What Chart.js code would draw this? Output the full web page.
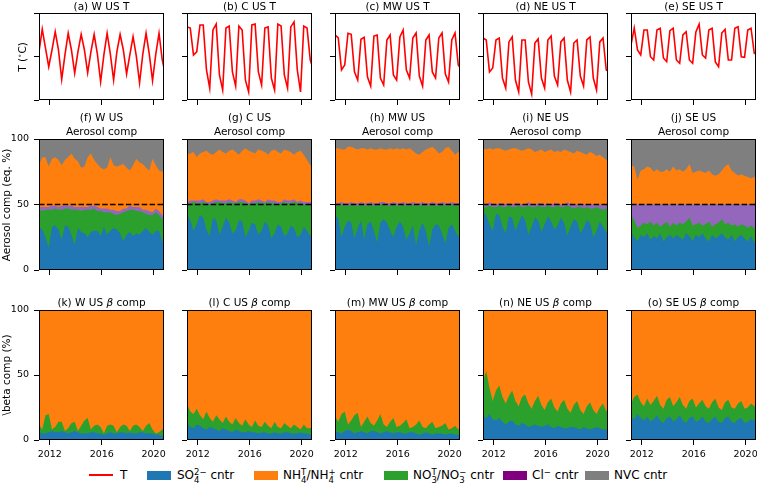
<!DOCTYPE html>
<html>
<head>
<meta charset="utf-8">
<script src="https://cdn.jsdelivr.net/npm/chart.js@4.4.1/dist/chart.umd.min.js"></script>
<style>
  body { margin: 0; background: #fff; font-family: "DejaVu Sans", sans-serif; color: #000; }
  #fig { position: relative; width: 757px; height: 483px; overflow: hidden; background: #fff; }
  #fig canvas { position: absolute; }
  .ttl { position: absolute; width: 160px; margin-left: -80px; text-align: center; font-size: 10.5px; line-height: 14px; white-space: nowrap; }
  .ylab { position: absolute; font-size: 10.5px; white-space: nowrap; transform: translate(-50%, -50%) rotate(-90deg); }
  .ylab sup { font-size: 7px; }
  .lg-patch { position: absolute; top: 471px; width: 24px; height: 9px; }
  .lg-line { position: absolute; top: 474px; width: 24px; height: 2px; background: #ff0000; }
  .lg-text { position: absolute; top: 467px; font-size: 12px; line-height: 17px; white-space: nowrap; }
  .ss { display: inline-block; vertical-align: -4px; font-size: 8.5px; line-height: 8px; text-align: left; }
  .ss span { display: block; }
</style>
</head>
<body>
<div id="fig"></div>
<script>
// === DATA: seasonal means, MAM 2011 ... DJF 2020 ===
const SEASON_START = [
  '2011-03','2011-06','2011-09','2011-12','2012-03','2012-06','2012-09','2012-12',
  '2013-03','2013-06','2013-09','2013-12','2014-03','2014-06','2014-09','2014-12',
  '2015-03','2015-06','2015-09','2015-12','2016-03','2016-06','2016-09','2016-12',
  '2017-03','2017-06','2017-09','2017-12','2018-03','2018-06','2018-09','2018-12',
  '2019-03','2019-06','2019-09','2019-12','2020-03','2020-06','2020-09','2020-12'
];
const X_TICKS = [2012, 2016, 2020];
const T_TICKS = [-5, 15, 35];
const PCT_TICKS = [0, 50, 100];
const REF_LEVEL = 50;

// temperature (deg C)
const T_W  = [17.2,27.6,18.9,10.3, 18.0,26.4,18.0,4.5, 15.7,25.7,18.0,7.3, 17.1,25.2,18.0,7.5, 17.1,25.2,16.1,3.4, 15.7,25.7,16.1,4.2, 17.1,25.2,18.0,7.0, 15.7,24.1,15.2,2.9, 16.1,25.7,16.1,3.9, 16.1,25.7,13.4,6.5];
const T_C  = [28.6,28.1,15.7,17.1, 29.5,29.5,8.8,0.5, 27.2,29.9,6.5,-0.4, 28.1,29.0,7.9,1.4, 29.0,27.2,4.2,-1.3, 29.5,29.9,7.9,1.9, 28.1,28.6,5.1,-0.4, 29.9,29.0,6.5,0.5, 28.6,30.9,8.8,-1.3, 29.0,28.1,13.4,8.8];
const T_MW = [24.9,23.6,8.8,11.1, 25.7,25.2,8.0,4.2, 22.9,23.8,5.7,1.4, 24.4,24.9,5.1,1.9, 22.6,24.9,6.5,4.2, 24.0,27.2,8.8,5.1, 23.5,25.8,6.0,1.4, 22.6,24.9,7.9,5.1, 23.5,25.8,7.0,3.3, 22.6,25.8,11.1,8.8];
const T_NE = [23.5,22.6,7.9,9.7, 22.6,23.5,5.1,0.5, 21.7,24.0,4.2,-1.3, 22.6,22.6,3.3,-2.3, 21.2,23.1,5.1,0.5, 22.6,24.4,6.0,1.9, 21.7,23.5,4.2,-1.3, 21.2,22.6,6.0,1.4, 22.6,24.0,5.1,-0.4, 21.7,23.5,8.8,7.9];
const T_SE = [20.3,28.1,18.0,15.7, 27.2,27.2,14.9,13.4, 27.2,28.0,14.3,12.6, 26.9,28.0,13.4,11.9, 24.9,26.4,13.4,11.9, 26.3,29.9,15.7,14.3, 27.2,28.0,12.5,10.3, 25.8,27.5,13.4,13.4, 28.0,28.7,14.9,14.6, 27.2,28.0,16.5,15.7];

// aerosol composition (eq. %), stacked SO4 / NO3 / Cl / NH4 / NVC
const AER_W_SO4 = [33,31,25,17,33,34,31,23,34,33,27,19,32,29,28,25,29,30,30,26,33,27,30,32,31,28,22,27,29,26,28,27,30,32,29,27,30,30,22,19];
const AER_W_NO3 = [13,14,21,29,13,13,15,23,13,14,19,27,14,16,18,21,17,17,15,19,11,17,14,11,11,15,22,18,17,20,17,18,14,11,13,15,14,12,17,18];
const AER_W_CL  = [2,3,2,2,3,2,2,3,2,2,3,2,2,3,2,2,3,2,3,2,3,3,2,3,3,2,3,2,3,2,3,3,2,3,3,2,3,3,3,3];
const AER_W_NH4 = [32,38,38,31,36,37,36,31,35,37,40,37,35,30,31,38,40,35,33,31,30,31,40,34,34,35,34,31,27,32,37,34,35,32,31,41,33,31,33,39];
const AER_W_NVC = [20,14,14,21,15,14,16,20,16,14,11,15,17,22,21,14,11,16,19,22,23,22,14,20,21,20,19,22,24,20,15,18,19,22,24,15,20,24,25,21];

const AER_C_SO4 = [43,38,30,35,42,40,31,26,40,38,27,33,40,36,28,30,38,37,25,30,36,35,27,30,37,34,24,28,35,33,26,28,34,32,25,27,33,30,26,24];
const AER_C_NO3 = [7,13,22,16,9,12,20,24,11,14,25,18,11,16,23,21,14,15,26,20,15,16,25,21,14,18,27,23,15,18,26,23,17,20,26,24,17,20,23,24];
const AER_C_CL  = [2,2,1,2,2,2,1,2,2,2,1,2,2,2,2,1,2,2,2,1,2,2,2,2,1,2,2,2,2,1,2,2,2,2,1,2,2,2,3,3];
const AER_C_NH4 = [36,36,37,33,36,36,39,37,35,36,39,37,36,37,39,38,34,37,40,40,37,36,38,38,38,34,38,39,38,37,38,38,37,34,38,38,36,32,28,28];
const AER_C_NVC = [12,11,10,14,11,10,9,11,12,10,8,10,11,9,8,10,12,9,7,9,10,11,8,9,10,12,9,8,10,11,8,9,10,12,10,9,12,16,20,21];

const AER_MW_SO4 = [41,40,25,33,38,36,24,32,38,23,35,37,30,21,36,39,36,30,25,33,37,33,23,28,34,19,30,36,30,18,31,35,34,28,20,32,35,30,25,31];
const AER_MW_NO3 = [8,9,25,16,11,14,25,17,12,26,14,13,19,28,14,11,13,19,25,16,12,17,26,21,16,30,19,14,19,31,19,14,15,22,29,17,15,19,24,19];
const AER_MW_CL  = [2,2,2,2,2,2,2,2,2,2,2,2,2,2,2,2,2,2,2,2,2,2,2,2,2,2,2,2,2,2,2,2,2,2,2,2,2,2,2,2];
const AER_MW_NH4 = [42,42,40,41,43,42,42,41,41,42,41,41,41,41,41,40,41,42,40,42,41,41,41,42,39,38,37,38,41,42,42,41,38,38,42,43,39,37,39,40];
const AER_MW_NVC = [7,7,8,8,6,6,7,8,7,7,8,7,8,8,7,8,8,7,8,7,8,7,8,7,9,11,12,10,8,7,6,8,11,10,7,6,9,12,10,8];

const AER_NE_SO4 = [44,42,35,30,43,42,33,28,41,40,30,36,42,38,27,33,40,38,29,35,41,37,31,34,40,36,26,33,39,37,28,32,38,36,25,30,37,33,29,27];
const AER_NE_NO3 = [4,6,14,18,5,7,15,20,8,8,18,13,6,10,22,15,8,11,19,13,8,11,17,15,8,12,23,15,8,11,20,15,10,11,22,18,10,13,18,19];
const AER_NE_CL  = [2,2,3,2,2,2,3,2,2,2,3,2,2,2,3,2,2,2,3,2,2,2,3,2,2,2,3,2,3,2,3,3,2,3,3,2,3,3,3,3];
const AER_NE_NH4 = [43,42,41,42,43,42,41,41,41,43,42,41,41,42,41,42,40,40,41,40,40,42,39,40,40,42,39,40,39,41,39,39,38,40,39,37,38,37,34,35];
const AER_NE_NVC = [7,8,7,8,7,7,8,9,8,7,7,8,9,8,7,8,10,9,8,10,9,8,10,9,10,8,9,10,11,9,10,11,12,10,11,13,12,14,16,16];

const AER_SE_SO4 = [29,25,22,27,25,28,23,26,24,28,22,25,27,24,27,25,23,28,26,22,27,25,28,24,22,27,24,26,28,25,23,27,22,25,27,24,22,26,21,22];
const AER_SE_NO3 = [13,13,10,7,11,7,14,8,12,5,13,12,6,12,7,11,12,9,14,12,8,11,6,11,15,6,11,10,11,10,13,7,13,8,8,10,10,8,11,6];
const AER_SE_CL  = [8,12,18,16,14,15,13,16,14,17,15,13,17,14,16,14,15,13,10,16,15,14,16,15,13,17,15,14,11,15,14,16,15,17,15,16,18,16,18,22];
const AER_SE_NH4 = [30,29,19,26,27,29,28,25,27,25,25,27,25,29,26,27,25,27,31,24,25,26,25,24,26,23,22,23,26,29,31,26,24,22,23,22,21,20,21,20];
const AER_SE_NVC = [20,21,31,24,23,21,22,25,23,25,25,23,25,21,24,23,25,23,19,26,25,24,25,26,24,27,28,27,24,21,19,24,26,28,27,28,29,30,29,30];

// beta composition (%), stacked SO4 / NO3 / NH4
const BETA_W_SO4 = [6,5,5,6,7,6,6,7,6,5,6,7,6,5,5,5,6,6,5,5,4,5,6,5,5,6,6,5,6,5,5,6,6,5,5,5,4,4,3,3];
const BETA_W_NO3 = [6,3,14,14,1,4,8,7,1,4,7,7,1,6,10,12,2,5,7,5,1,6,6,6,1,4,6,6,1,6,7,4,1,6,8,3,1,2,5,6];
const BETA_W_NH4 = [88,92,81,80,92,90,86,86,93,91,87,86,93,89,85,83,92,89,88,90,95,89,88,89,94,90,88,89,93,89,88,90,93,89,87,92,95,94,92,91];

const BETA_C_SO4 = [13,10,9,12,11,9,8,10,9,8,7,9,8,7,6,8,7,6,6,7,6,6,5,6,6,5,5,6,5,5,6,6,5,5,5,6,5,5,4,5];
const BETA_C_NO3 = [15,12,11,12,8,7,14,7,5,11,9,4,10,7,6,9,6,5,10,5,4,9,6,4,8,6,4,8,5,4,7,5,4,7,5,2,7,4,5,5];
const BETA_C_NH4 = [72,78,80,76,81,84,78,83,86,81,84,87,82,86,88,83,87,89,84,88,90,85,89,90,86,89,91,86,90,91,87,89,91,88,90,92,88,91,91,90];

const BETA_MW_SO4 = [7,6,5,7,8,7,5,6,7,6,5,7,7,6,5,6,7,6,5,6,6,5,5,6,6,5,4,5,6,5,4,5,5,5,4,5,5,4,4,4];
const BETA_MW_NO3 = [11,8,15,15,4,8,14,15,3,8,13,6,4,9,15,6,3,8,12,4,5,8,11,3,4,7,11,5,3,7,10,4,5,6,9,3,4,7,4,5];
const BETA_MW_NH4 = [82,86,80,78,88,85,81,79,90,86,82,87,89,85,80,88,90,86,83,90,89,87,84,91,90,88,85,90,91,88,86,91,90,89,87,92,91,89,92,91];

const BETA_NE_SO4 = [18,17,20,16,15,17,14,12,14,15,12,11,13,12,10,11,12,11,10,11,12,10,9,11,10,9,9,10,10,9,8,10,9,8,9,10,9,8,8,9];
const BETA_NE_NO3 = [27,36,20,14,23,25,19,16,20,23,18,15,20,23,18,13,18,23,17,12,17,22,16,11,18,22,15,11,17,21,15,10,17,21,14,10,16,20,14,15];
const BETA_NE_NH4 = [55,47,60,70,62,58,67,72,66,62,70,74,67,65,72,76,70,66,73,77,71,68,75,78,72,69,76,79,73,70,77,80,74,71,77,80,75,72,78,76];

const BETA_SE_SO4 = [18,16,20,17,15,18,14,16,19,15,13,17,18,14,16,19,15,13,17,18,14,15,18,14,13,16,18,14,13,17,18,14,13,16,17,13,14,16,15,14];
const BETA_SE_NO3 = [10,17,15,12,11,14,13,14,15,12,11,14,15,12,13,14,12,11,13,14,11,13,13,12,11,13,14,11,10,12,13,11,11,12,13,11,11,12,11,11];
const BETA_SE_NH4 = [72,67,65,71,74,68,73,70,66,73,76,69,67,74,71,67,73,76,70,68,75,72,69,74,76,71,68,75,77,71,69,75,76,72,70,76,75,72,74,75];

// === TITLES & COLOURS ===
const LETTERS = ['abcde', 'fghij', 'klmno'];
const REGION_NAMES = ['W US', 'C US', 'MW US', 'NE US', 'SE US'];
const COL_SO4 = '#1f77b4', COL_NH4 = '#ff7f0e', COL_NO3 = '#2ca02c', COL_CL = '#9467bd', COL_NVC = '#7f7f7f';

const T_SERIES = [T_W, T_C, T_MW, T_NE, T_SE];
const AER_SERIES = [
  [AER_W_SO4, AER_W_NO3, AER_W_CL, AER_W_NH4, AER_W_NVC],
  [AER_C_SO4, AER_C_NO3, AER_C_CL, AER_C_NH4, AER_C_NVC],
  [AER_MW_SO4, AER_MW_NO3, AER_MW_CL, AER_MW_NH4, AER_MW_NVC],
  [AER_NE_SO4, AER_NE_NO3, AER_NE_CL, AER_NE_NH4, AER_NE_NVC],
  [AER_SE_SO4, AER_SE_NO3, AER_SE_CL, AER_SE_NH4, AER_SE_NVC]
];
const BETA_SERIES = [
  [BETA_W_SO4, BETA_W_NO3, BETA_W_NH4],
  [BETA_C_SO4, BETA_C_NO3, BETA_C_NH4],
  [BETA_MW_SO4, BETA_MW_NO3, BETA_MW_NH4],
  [BETA_NE_SO4, BETA_NE_NO3, BETA_NE_NH4],
  [BETA_SE_SO4, BETA_SE_NO3, BETA_SE_NH4]
];

// decimal years from season start months
const X_VALUES = SEASON_START.map(s => { const p = s.split('-'); return +p[0] + (+p[1] - 1) / 12; });
const X_MIN = X_VALUES[0];
const X_MAX = 2020.8;

// === LAYOUT (pixels of the figure) ===
const COL_LEFT = [39, 187, 335, 483, 631];
const PLOT_W = 125;
const ROW_TOP = [13, 139, 310];
const ROW_H = [87, 131, 130];

const fig = document.getElementById('fig');

// black box round every panel, like matplotlib spines
const framePlugin = {
  id: 'frame',
  afterDatasetsDraw(chart) {
    const a = chart.chartArea, ctx = chart.ctx;
    ctx.save();
    ctx.strokeStyle = '#000';
    ctx.lineWidth = 1;
    ctx.strokeRect(Math.round(a.left) + 0.5, Math.round(a.top) + 0.5, Math.round(a.right - a.left) - 1, Math.round(a.bottom - a.top) - 1);
    ctx.restore();
  }
};

function toPoints(vals) {
  return vals.map((v, i) => ({ x: X_VALUES[i], y: v }));
}

function areaSets(series, colors) {
  // every layer filled down to 0, lower layers are painted over the upper ones
  return series.map((vals, k) => ({
    data: toPoints(vals),
    backgroundColor: colors[k],
    borderColor: 'rgba(0,0,0,0)',
    borderWidth: 0,
    pointRadius: 0,
    tension: 0,
    fill: 'origin',
    stack: 'comp'
  }));
}

function drawPanel(row, col, datasets, yTicks, stacked) {
  const padL = 36, padT = 16, padR = 16, padB = row === 2 ? 26 : 16;
  const cv = document.createElement('canvas');
  cv.width = padL + PLOT_W + padR;
  cv.height = padT + ROW_H[row] + padB;
  cv.style.left = (COL_LEFT[col] - padL) + 'px';
  cv.style.top = (ROW_TOP[row] - padT) + 'px';
  fig.appendChild(cv);

  const tickFont = { family: 'DejaVu Sans', size: 9.5 };
  new Chart(cv, {
    type: 'line',
    data: { datasets },
    options: {
      responsive: false,
      animation: false,
      events: [],
      layout: { padding: { left: 0, top: padT, right: padR, bottom: 0 } },
      plugins: { legend: { display: false }, tooltip: { enabled: false } },
      scales: {
        x: {
          type: 'linear', min: X_MIN, max: X_MAX,
          afterBuildTicks: s => { s.ticks = X_TICKS.map(v => ({ value: v })); },
          afterFit: s => { s.height = padB; },
          ticks: { display: row === 2, color: '#000', font: tickFont, padding: 4, maxRotation: 0, autoSkip: false, callback: v => String(v) },
          grid: { drawOnChartArea: false, drawTicks: true, tickLength: 5, color: '#000', lineWidth: 1 },
          border: { display: false }
        },
        y: {
          min: yTicks[0], max: yTicks[yTicks.length - 1], stacked,
          afterBuildTicks: s => { s.ticks = yTicks.map(v => ({ value: v })); },
          afterFit: s => { s.width = padL; },
          ticks: { display: row > 0 && col === 0, color: '#000', font: tickFont, padding: 5, callback: v => String(v) },
          grid: { drawOnChartArea: false, drawTicks: true, tickLength: 5, color: '#000', lineWidth: 1 },
          border: { display: false }
        }
      }
    },
    plugins: [framePlugin]
  });
}

function addTitle(row, col, html) {
  const d = document.createElement('div');
  d.className = 'ttl';
  d.style.left = (COL_LEFT[col] + PLOT_W / 2) + 'px';
  d.style.top = [-1, 110, 295][row] + 'px';
  d.innerHTML = html;
  fig.appendChild(d);
}

const refLine = () => ({
  data: [{ x: X_MIN, y: REF_LEVEL }, { x: X_MAX, y: REF_LEVEL }],
  borderColor: '#000', borderWidth: 1.5, borderDash: [5.5, 2.4],
  pointRadius: 0, fill: false, stack: 'ref', order: -1
});

for (let c = 0; c < 5; c++) {
  // row 1: temperature
  drawPanel(0, c, [{
    data: toPoints(T_SERIES[c]), borderColor: '#ff0000', borderWidth: 1.6,
    pointRadius: 0, tension: 0, fill: false
  }], T_TICKS, false);
  addTitle(0, c, `(${LETTERS[0][c]}) ${REGION_NAMES[c]} T`);

  // row 2: aerosol composition
  const aer = areaSets(AER_SERIES[c], [COL_SO4, COL_NO3, COL_CL, COL_NH4, COL_NVC]);
  aer.push(refLine());
  drawPanel(1, c, aer, PCT_TICKS, true);
  addTitle(1, c, `(${LETTERS[1][c]}) ${REGION_NAMES[c]}<br>Aerosol comp`);

  // row 3: beta composition
  drawPanel(2, c, areaSets(BETA_SERIES[c], [COL_SO4, COL_NO3, COL_NH4]), PCT_TICKS, true);
  addTitle(2, c, `(${LETTERS[2][c]}) ${REGION_NAMES[c]} <i>β</i> comp`);
}

// y-axis labels
function addYLabel(x, y, html) {
  const d = document.createElement('div');
  d.className = 'ylab';
  d.style.left = x + 'px';
  d.style.top = y + 'px';
  d.innerHTML = html;
  fig.appendChild(d);
}
addYLabel(22, 57, 'T (<sup>∘</sup>C)');
addYLabel(6, 205, 'Aerosol comp (eq. %)');
addYLabel(6, 375, '\\beta comp (%)');

// legend along the bottom
const LEGEND = [
  { kind: 'line', x: 89, tx: 120, html: 'T' },
  { kind: 'patch', x: 147, tx: 177, color: COL_SO4, html: 'SO<span class="ss"><span>2−</span><span>4</span></span> cntr' },
  { kind: 'patch', x: 254, tx: 283, color: COL_NH4, html: 'NH<span class="ss"><span>T</span><span>4</span></span>/NH<span class="ss"><span>+</span><span>4</span></span> cntr' },
  { kind: 'patch', x: 384, tx: 413, color: COL_NO3, html: 'NO<span class="ss"><span>T</span><span>3</span></span>/NO<span class="ss"><span>−</span><span>3</span></span> cntr' },
  { kind: 'patch', x: 503, tx: 532, color: '#800080', html: 'Cl<span class="ss"><span>−</span><span>&nbsp;</span></span> cntr' },
  { kind: 'patch', x: 585, tx: 614, color: COL_NVC, html: 'NVC cntr' }
];
LEGEND.forEach(item => {
  const h = document.createElement('div');
  h.className = item.kind === 'line' ? 'lg-line' : 'lg-patch';
  h.style.left = item.x + 'px';
  if (item.color) h.style.background = item.color;
  fig.appendChild(h);
  const t = document.createElement('div');
  t.className = 'lg-text';
  t.style.left = item.tx + 'px';
  t.innerHTML = item.html;
  fig.appendChild(t);
});
</script>
</body>
</html>
